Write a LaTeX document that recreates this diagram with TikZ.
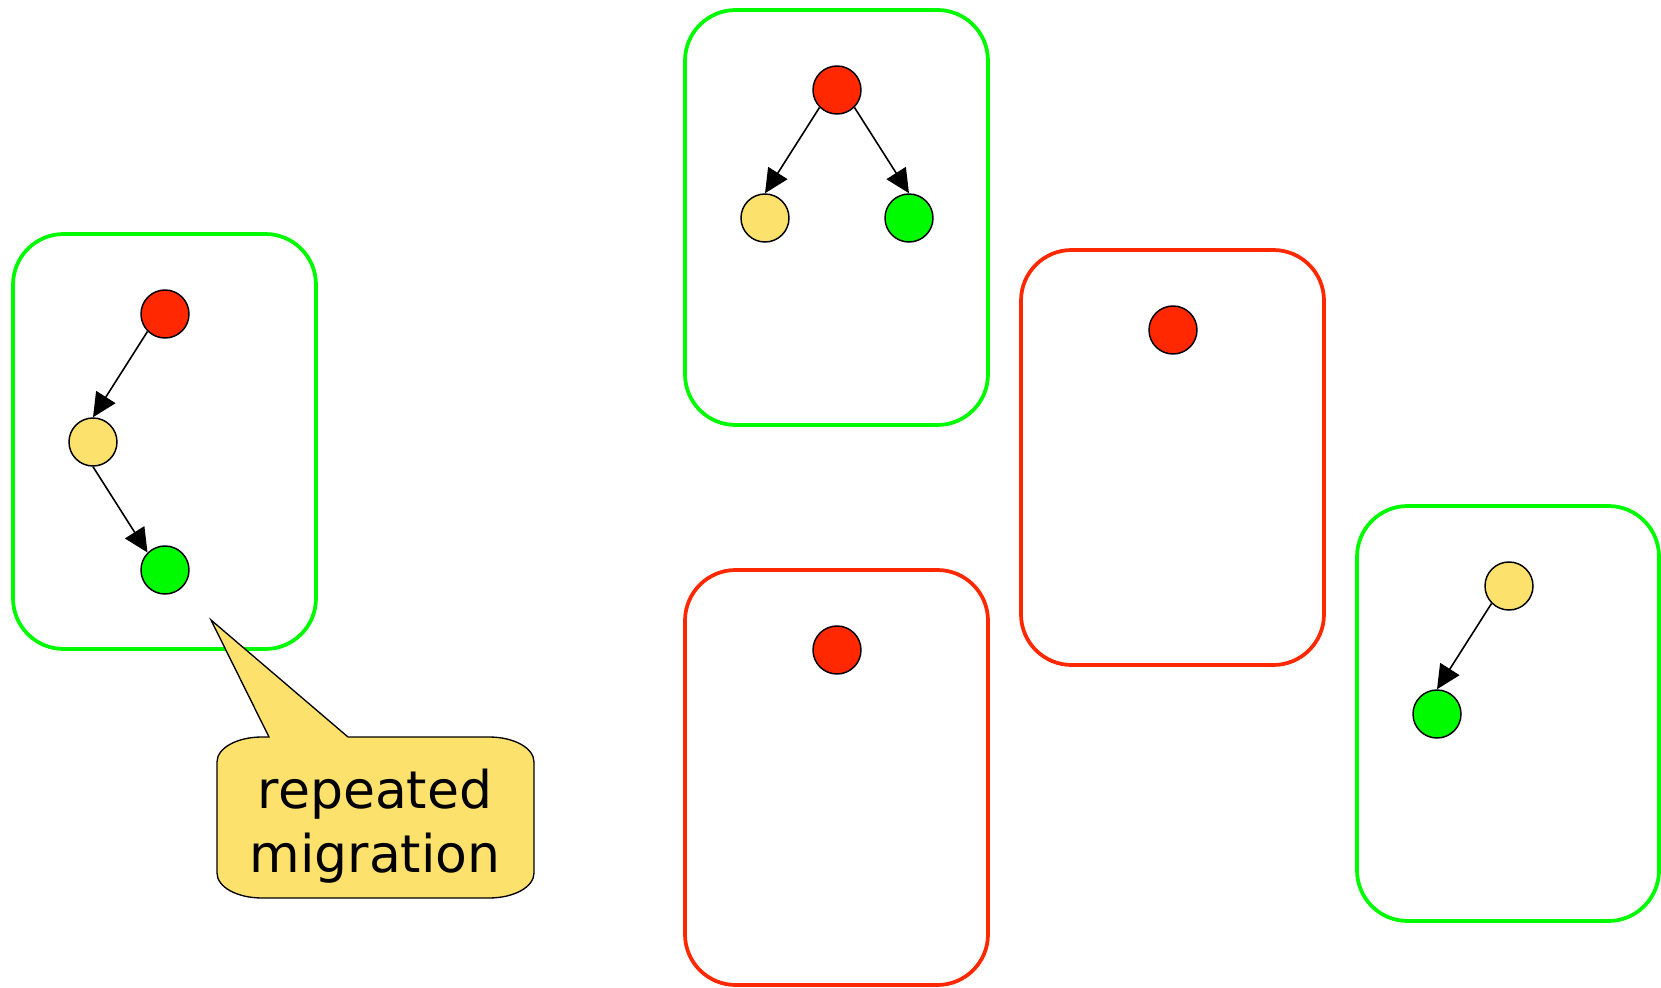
\documentclass[tikz,border=0pt]{standalone}
\usepackage{fontspec}
\newfontfamily\calloutfont{DejaVu Sans}
\usetikzlibrary{arrows.meta}
\definecolor{hostgreen}{RGB}{0,250,0}
\definecolor{hostred}{RGB}{255,40,0}
\definecolor{dotyellow}{RGB}{252,226,108}

\begin{document}
\begin{tikzpicture}[x=0.75pt,y=0.75pt,yscale=-1,xscale=1,
  host/.style={line width=2.8pt,rounded corners=38pt},
  dot/.style={circle,draw,line width=1.1pt,minimum size=36pt,inner sep=0pt},
  mig/.style={-{Triangle[length=18pt,width=17pt]},line width=1.2pt}]
%set diagram left start at 0, and has height of 988
\useasboundingbox (0,0) rectangle (1661,988);

%Shape: Rounded Rect [host 1]
\draw [host,hostgreen] (13,234) rectangle (316,649);
%Shape: Rounded Rect [host 2]
\draw [host,hostgreen] (685,10) rectangle (988,425);
%Shape: Rounded Rect [host 3]
\draw [host,hostred] (685,570) rectangle (988,985);
%Shape: Rounded Rect [host 4]
\draw [host,hostred] (1021,250) rectangle (1324,665);
%Shape: Rounded Rect [host 5]
\draw [host,hostgreen] (1357,506) rectangle (1659,921);

%Shape: Circle [host 1]
\node [dot,fill=hostred] (red1) at (165,314) {};
\node [dot,fill=dotyellow] (yel1) at (93,442) {};
\node [dot,fill=hostgreen] (grn1) at (165,570) {};
%Shape: Circle [host 2]
\node [dot,fill=hostred] (red2) at (837,90) {};
\node [dot,fill=dotyellow] (yel2) at (765,218) {};
\node [dot,fill=hostgreen] (grn2) at (909,218) {};
%Shape: Circle [host 3]
\node [dot,fill=hostred] (red3) at (837,650) {};
%Shape: Circle [host 4]
\node [dot,fill=hostred] (red4) at (1173,330) {};
%Shape: Circle [host 5]
\node [dot,fill=dotyellow] (yel5) at (1509,586) {};
\node [dot,fill=hostgreen] (grn5) at (1437,714) {};

%Straight Lines [arrows]
\draw [mig] (red1.south west) -- (yel1.north);
\draw [mig] (yel1.south) -- (grn1.north west);
\draw [mig] (red2.south west) -- (yel2.north);
\draw [mig] (red2.south east) -- (grn2.north);
\draw [mig] (yel5.south west) -- (grn5.north);

%Shape: Callout
\draw [fill=dotyellow,line width=1pt] (269,737) -- (211,620) -- (348,737) -- (489,737) .. controls (514,737) and (534,748) .. (534,762) -- (534,873) .. controls (534,887) and (514,898) .. (489,898) -- (262,898) .. controls (237,898) and (217,887) .. (217,873) -- (217,762) .. controls (217,748) and (237,737) .. (262,737) -- cycle ;

% Text Node
\node [inner sep=0pt,align=center,font=\calloutfont\fontsize{39}{48.4}\selectfont] (note) at (375,826) {repeated\\migration};

\end{tikzpicture}
\end{document}
